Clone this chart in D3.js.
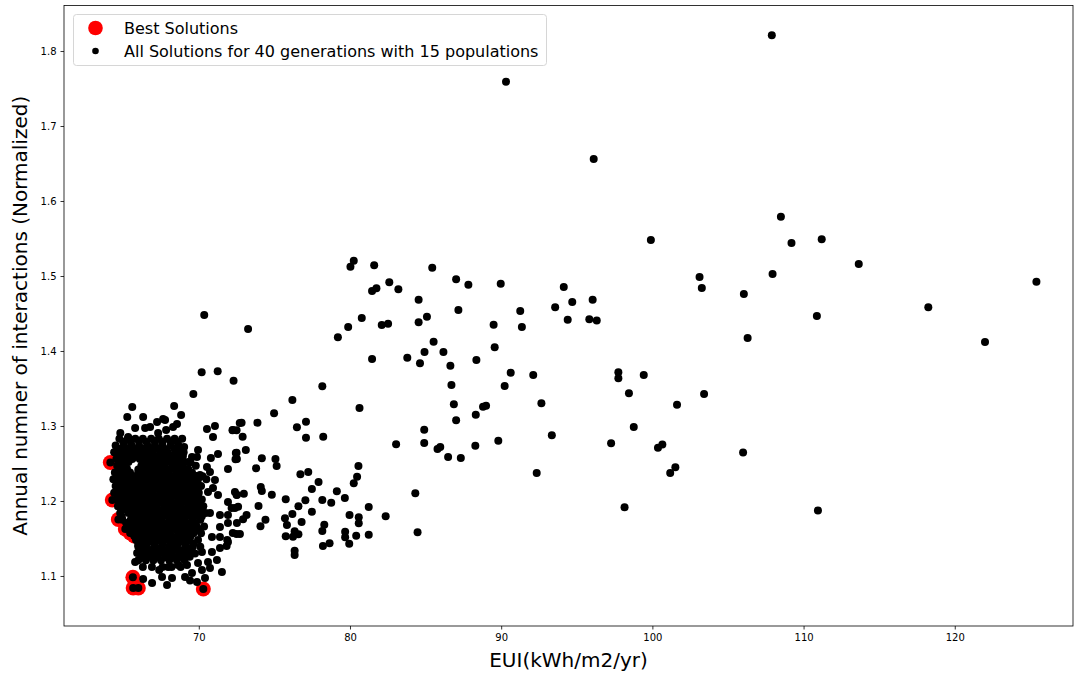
<!DOCTYPE html>
<html>
<head>
<meta charset="utf-8">
<script src="https://cdn.jsdelivr.net/npm/d3@7"></script>
<style>
  body { margin: 0; background: #fff; }
  svg { display: block; }
  text { font-family: "DejaVu Sans", sans-serif; }
</style>
</head>
<body>
<div id="chart"></div>
<script>
// chart size
let width = 1075, height = 677;
let plot = {left: 64, top: 5.5, right: 1073, bottom: 626};

let xTicks = [70, 80, 90, 100, 110, 120];
let yTicks = [1.1, 1.2, 1.3, 1.4, 1.5, 1.6, 1.7, 1.8];

let legendLabels = ["Best Solutions", "All Solutions for 40 generations with 15 populations"];

// [EUI, interactions] of the best solutions (red)
let bestSolutions = [[64.15,1.2513],[64.28,1.2013],[64.68,1.1753],[65.14,1.1627],[65.46,1.1573],[65.73,1.1533],
  [65.64,1.0983],[65.66,1.084],[66.0,1.084],[70.3,1.0827]];

// dense cluster of solutions, read row by row
let clusterSolutions = [
  [64.75,1.283],[65.3,1.283],[65.8,1.283],[66.3,1.283],[66.85,1.283],[67.35,1.283],[67.9,1.283],[68.4,1.283],[68.9,1.283],
  [64.5,1.274],[65.05,1.274],[65.55,1.274],[66.05,1.274],[66.6,1.274],[67.1,1.274],[67.6,1.274],[68.15,1.274],[68.65,1.274],
  [64.4,1.265],[64.9,1.265],[65.4,1.265],[65.9,1.265],[66.45,1.265],[66.95,1.265],[67.45,1.265],[67.95,1.265],[68.5,1.265],[69.0,1.265],
  [64.55,1.256],[65.1,1.256],[65.6,1.256],[66.1,1.256],[66.6,1.256],[67.15,1.256],[67.65,1.256],[68.2,1.256],[68.7,1.256],
  [64.6,1.247],[65.15,1.247],[66.2,1.247],[66.7,1.247],[67.2,1.247],[67.7,1.247],[68.25,1.247],[68.75,1.247],[69.8,1.247],
  [64.45,1.238],[64.95,1.238],[65.45,1.238],[66.0,1.238],[66.5,1.238],[67.0,1.238],[67.5,1.238],[68.0,1.238],[68.55,1.238],[69.05,1.238],[69.55,1.238],
  [64.35,1.229],[64.85,1.229],[65.35,1.229],[65.85,1.229],[66.35,1.229],[66.9,1.229],[67.4,1.229],[67.9,1.229],[68.4,1.229],[68.9,1.229],[69.45,1.229],[69.95,1.229],[70.5,1.229],
  [64.5,1.22],[65.0,1.22],[65.5,1.22],[66.05,1.22],[66.55,1.22],[67.05,1.22],[67.6,1.22],[68.1,1.22],[68.6,1.22],[69.1,1.22],[69.65,1.22],[70.15,1.22],
  [64.4,1.211],[64.9,1.211],[65.4,1.211],[65.95,1.211],[66.45,1.211],[66.95,1.211],[67.45,1.211],[68.0,1.211],[68.5,1.211],[69.0,1.211],[69.5,1.211],[70.0,1.211],
  [64.55,1.202],[65.05,1.202],[65.6,1.202],[66.1,1.202],[66.6,1.202],[67.1,1.202],[67.65,1.202],[68.15,1.202],[68.65,1.202],[69.15,1.202],[69.7,1.202],[70.2,1.202],
  [64.65,1.193],[65.15,1.193],[65.7,1.193],[66.2,1.193],[66.7,1.193],[67.2,1.193],[67.75,1.193],[68.25,1.193],[68.75,1.193],[69.3,1.193],[69.8,1.193],[70.3,1.193],
  [64.8,1.184],[65.35,1.184],[65.85,1.184],[66.35,1.184],[66.9,1.184],[67.4,1.184],[67.9,1.184],[68.4,1.184],[68.95,1.184],[69.45,1.184],[69.95,1.184],[70.45,1.184],
  [64.95,1.175],[65.5,1.175],[66.0,1.175],[66.5,1.175],[67.0,1.175],[67.55,1.175],[68.05,1.175],[68.55,1.175],[69.05,1.175],[69.6,1.175],[70.1,1.175],
  [65.3,1.166],[65.8,1.166],[66.3,1.166],[66.8,1.166],[67.3,1.166],[67.8,1.166],[68.3,1.166],[68.85,1.166],[69.35,1.166],[69.85,1.166],[70.35,1.166],
  [65.6,1.157],[66.1,1.157],[66.6,1.157],[67.1,1.157],[67.6,1.157],[68.1,1.157],[68.65,1.157],[69.15,1.157],[69.65,1.157],[70.15,1.157],
  [65.85,1.148],[66.35,1.148],[66.85,1.148],[67.35,1.148],[67.9,1.148],[68.4,1.148],[68.9,1.148],[69.4,1.148],[69.95,1.148],
  [66.0,1.139],[66.5,1.139],[67.05,1.139],[67.55,1.139],[68.05,1.139],[68.55,1.139],[69.1,1.139],[69.6,1.139],[70.1,1.139],
  [66.15,1.13],[66.7,1.13],[67.2,1.13],[67.7,1.13],[68.2,1.13],[68.75,1.13],[69.25,1.13],[69.75,1.13],
  [66.0,1.121],[66.5,1.121],[67.0,1.121],[67.5,1.121],[68.05,1.121],[68.55,1.121],[69.05,1.121],
  [66.3,1.112],[66.9,1.112],[67.6,1.112],[68.2,1.112],[68.8,1.112]
];

// points sitting between the rows above, where the cluster is solid
let clusterFill = [
  [65.0,1.279],[66.05,1.2795],[67.1,1.2785],[68.15,1.279],[65.5,1.279],[66.55,1.2785],[67.6,1.279],[68.6,1.2785],
  [64.7,1.2695],[65.25,1.2695],[65.75,1.269],[66.3,1.2695],[66.8,1.27],[67.35,1.2695],[67.85,1.269],[68.4,1.2695],[68.85,1.27],
  [64.7,1.2605],[65.3,1.261],[65.85,1.2600],[66.4,1.2605],[66.85,1.261],[67.4,1.2600],[67.9,1.2605],[68.45,1.261],[68.95,1.2600],
  [64.95,1.2605],[65.55,1.2605],[66.1,1.261],[66.6,1.2605],[67.1,1.26],[67.65,1.2605],[68.2,1.261],[68.7,1.2605],
  [64.8,1.2515],[65.35,1.252],[66.4,1.2515],[66.9,1.251],[67.4,1.2515],[67.95,1.252],[68.45,1.2515],[68.95,1.251],[69.45,1.2515],
  [64.75,1.2425],[65.25,1.243],[66.3,1.2425],[66.75,1.243],[67.3,1.2420],[67.8,1.2425],[68.35,1.243],[68.85,1.2420],[69.3,1.2425],
  [65.0,1.2425],[66.0,1.242],[66.5,1.2425],[67.05,1.243],[67.55,1.2425],[68.1,1.242],[68.6,1.2425],[69.05,1.243],
  [64.6,1.2335],[65.1,1.234],[65.6,1.2335],[66.15,1.233],[66.7,1.2335],[67.2,1.234],[67.7,1.2335],[68.2,1.233],[68.75,1.2335],[69.25,1.234],[69.75,1.2335],[70.25,1.233],
  [64.65,1.2245],[65.2,1.225],[65.7,1.2240],[66.25,1.2245],[66.8,1.225],[67.3,1.2240],[67.85,1.2245],[68.35,1.225],[68.85,1.2240],[69.35,1.2245],[69.9,1.225],
  [64.9,1.2245],[65.45,1.224],[65.95,1.2245],[66.5,1.225],[67.05,1.2245],[67.55,1.224],[68.1,1.2245],[68.6,1.225],[69.1,1.2245],[69.6,1.224],
  [64.65,1.2155],[65.15,1.216],[65.7,1.2155],[66.25,1.215],[66.75,1.2155],[67.3,1.216],[67.8,1.2155],[68.3,1.215],[68.8,1.2155],[69.3,1.216],[69.85,1.2155],
  [64.7,1.2065],[65.25,1.207],[65.8,1.2060],[66.3,1.2065],[66.85,1.207],[67.35,1.2060],[67.9,1.2065],[68.4,1.207],[68.9,1.2060],[69.4,1.2065],[69.95,1.207],
  [64.95,1.2065],[65.5,1.206],[66.05,1.2065],[66.55,1.207],[67.1,1.2065],[67.6,1.206],[68.15,1.2065],[68.65,1.207],[69.15,1.2065],[69.65,1.206],
  [64.8,1.1975],[65.3,1.198],[65.85,1.1975],[66.35,1.197],[66.9,1.1975],[67.4,1.198],[67.9,1.1975],[68.4,1.197],[68.9,1.1975],[69.45,1.198],[69.95,1.1975],
  [64.95,1.1885],[65.45,1.189],[65.95,1.1880],[66.5,1.1885],[67.0,1.189],[67.5,1.1880],[68.0,1.1885],[68.55,1.189],[69.05,1.1880],[69.55,1.1885],[70.05,1.189],
  [65.2,1.1885],[65.7,1.188],[66.2,1.1885],[66.75,1.189],[67.25,1.1885],[67.75,1.188],[68.3,1.1885],[68.8,1.189],[69.3,1.1885],[69.8,1.188],
  [64.9,1.1795],[65.6,1.18],[66.1,1.1795],[66.6,1.179],[67.15,1.1795],[67.65,1.18],[68.15,1.1795],[68.7,1.179],[69.2,1.1795],[69.7,1.18],[70.2,1.1795],
  [65.2,1.1705],[65.7,1.171],[66.2,1.1700],[66.75,1.1705],[67.25,1.171],[67.75,1.1700],[68.25,1.1705],[68.8,1.171],[69.3,1.1700],[69.8,1.1705],
  [65.45,1.1705],[65.95,1.17],[66.5,1.1705],[67.0,1.171],[67.5,1.1705],[68.0,1.17],[68.5,1.1705],[69.05,1.171],[69.55,1.1705],
  [65.45,1.1615],[65.95,1.162],[66.45,1.1615],[67.0,1.161],[67.5,1.1615],[68.0,1.162],[68.5,1.1615],[69.05,1.161],[69.55,1.1615],[70.05,1.162],
  [65.85,1.1525],[66.35,1.153],[66.85,1.1520],[67.35,1.1525],[67.85,1.153],[68.35,1.1520],[68.9,1.1525],[69.45,1.153],
  [66.1,1.1525],[66.6,1.152],[67.1,1.1525],[67.6,1.153],[68.1,1.1525],[68.6,1.152],[69.15,1.1525],
  [66.1,1.1435],[66.6,1.144],[67.1,1.1435],[67.6,1.143],[68.15,1.1435],[68.65,1.144],[69.15,1.1435],[69.65,1.143],
  [66.4,1.1345],[66.95,1.135],[67.45,1.1340],[67.95,1.1345],[68.45,1.135],[69.0,1.1340],[69.5,1.1345],
  [66.7,1.1345],[67.2,1.134],[67.7,1.1345],[68.2,1.135],[68.7,1.1345],[69.25,1.134],
  [66.3,1.1255],[66.8,1.126],[67.3,1.1255],[67.85,1.125],[68.35,1.1255],[68.85,1.126],[69.4,1.1255]
];

// loose points around the edge of the cluster
let clusterEdge = [
  [65.6,1.3253],[65.27,1.312],[66.32,1.312],[68.37,1.3267],[69.64,1.3427],[68.83,1.3147],[67.64,1.3093],[67.24,1.3053],
  [66.78,1.2987],[65.79,1.2973],[66.45,1.2973],[64.81,1.2907],[65.33,1.2853],[67.31,1.2907],[67.84,1.2947],[68.3,1.2987],
  [68.56,1.3027],[67.77,1.308],[70.54,1.296],[71.07,1.3],[70.94,1.2853],[72.25,1.2947],[72.71,1.304],[69.03,1.272],
  [69.95,1.268],[69.88,1.2587],[69.55,1.2587],[69.29,1.252],[70.8,1.2573],[71.27,1.2627],[72.45,1.264],[70.54,1.2453],
  [71.93,1.2427],[72.52,1.256],[70.74,1.2387],[71.07,1.228],[70.08,1.2347],[70.61,1.212],[70.94,1.2173],[72.39,1.212],
  [71.27,1.208],[71.93,1.1987],[72.52,1.208],[70.74,1.184],[71.4,1.1813],[71.93,1.1813],[72.39,1.1907],[72.52,1.1707],
  [71.4,1.1653],[71.93,1.1707],[70.87,1.152],[71.4,1.152],[71.93,1.1453],[72.25,1.1573],[71.4,1.1373],[70.87,1.132],
  [70.21,1.132],[71.2,1.1213],[70.61,1.1187],[69.95,1.1173],[69.22,1.1147],[68.63,1.1147],[67.97,1.112],[70.21,1.108],
  [70.74,1.1107],[71.53,1.1053],[69.55,1.104],[69.09,1.0987],[68.23,1.0973],[70.41,1.0973],[69.88,1.092],[69.42,1.094],
  [66.32,1.096],[66.91,1.0907],[67.57,1.0987],[67.9,1.088],[67.38,1.108],[65.79,1.1187],[65.92,1.1307],[65.99,1.1413],
  [71.88,1.148],[71.84,1.14],[70.36,1.448],[70.19,1.3716],[71.25,1.373]
];

// the points spread to the right
let spreadSolutions = [
  [80.25,1.5204],[80.03,1.5124],[81.6,1.5143],[85.44,1.5111],[87.02,1.4956],[87.83,1.4884],[82.6,1.4916],[83.2,1.4823],
  [81.46,1.48],[81.75,1.4836],[84.54,1.4684],[87.17,1.4547],[80.78,1.444],[79.88,1.432],[79.2,1.4183],[82.1,1.4347],
  [82.52,1.4364],[84.54,1.4383],[85.09,1.4457],[73.26,1.4293],[85.53,1.4124],[84.93,1.3987],[86.18,1.3987],[83.79,1.391],
  [84.63,1.3836],[81.46,1.3893],[86.64,1.3804],[86.71,1.3547],[86.87,1.3289],[88.8,1.3258],[89.0,1.3271],[88.32,1.3151],
  [87.02,1.3076],[84.91,1.2951],[84.91,1.2773],[83.05,1.2756],[85.79,1.2693],[85.97,1.272],[86.49,1.2587],[87.33,1.2573],
  [88.29,1.2737],[80.63,1.324],[78.17,1.3529],[76.19,1.3347],[72.3,1.3604],[74.98,1.3169],[77.09,1.3057],[76.49,1.2983],
  [77.09,1.2844],[78.23,1.2857],[73.88,1.3044],[72.83,1.3044],[72.23,1.2943],[72.5,1.2943],[72.9,1.2857],[73.11,1.268],
  [72.5,1.2644],[72.43,1.2556],[74.17,1.2569],[73.79,1.2436],[75.07,1.256],[75.15,1.2467],[80.56,1.2467],[80.47,1.2324],
  [80.25,1.2236],[77.92,1.2253],[77.24,1.2387],[76.72,1.2356],[77.48,1.216],[79.13,1.2129],[79.66,1.204],[84.32,1.2103],
  [84.47,1.1583],[81.24,1.192],[82.36,1.1796],[80.58,1.1783],[80.58,1.1703],[79.97,1.1813],[81.24,1.1551],[80.41,1.1537],
  [79.68,1.1591],[79.68,1.1516],[79.95,1.1431],[78.65,1.1436],[78.21,1.14],[78.3,1.1684],[78.17,1.16],[78.76,1.1977],
  [78.17,1.2013],[77.48,1.1857],[77.05,1.2009],[76.59,1.1929],[75.75,1.2023],[76.19,1.1827],[75.7,1.1769],[75.83,1.168],
  [76.8,1.172],[76.59,1.1556],[76.34,1.1596],[76.23,1.1524],[75.75,1.1529],[76.34,1.1337],[76.34,1.128],[74.83,1.2084],
  [73.95,1.1933],[74.41,1.1751],[74.08,1.1663],[72.98,1.2097],[72.5,1.2084],[72.6,1.1924],[72.17,1.1907],[73.16,1.1813],
  [72.93,1.1756],[72.5,1.156],[72.72,1.156],[74.1,1.2187],[74.17,1.2133],
  [107.9,1.821],[90.32,1.759],[96.12,1.656],[108.5,1.579],[99.9,1.548],[109.2,1.544],[111.2,1.549],[113.65,1.516],
  [107.95,1.5027],[103.12,1.4987],[103.27,1.484],[125.4,1.4925],[106.05,1.476],[118.25,1.4583],[122.0,1.412],[106.3,1.4173],
  [110.88,1.4465],[103.42,1.3425],[101.63,1.3284],[97.75,1.3715],[97.75,1.3636],[99.43,1.368],[98.45,1.3436],[97.27,1.277],
  [98.77,1.2985],[100.37,1.2711],[100.66,1.2752],[101.18,1.2372],[101.52,1.2449],[106.0,1.2645],[98.16,1.1917],[110.95,1.1872],
  [92.66,1.3303],[93.35,1.2876],[92.35,1.2373],[94.4,1.4415],[95.83,1.4424],[96.32,1.4408],[93.57,1.4583],[94.7,1.4653],
  [96.05,1.4684],[94.14,1.4853],[91.26,1.4533],[89.97,1.4897],[91.37,1.432],[89.5,1.4351],[92.12,1.368],[90.63,1.3711],
  [90.23,1.3533],[89.57,1.4049],[88.36,1.388],[89.81,1.2804]
];

let allSolutions = bestSolutions.concat(clusterSolutions, clusterFill, clusterEdge, spreadSolutions);

let svg = d3.select("#chart")
    .append("svg")
    .attr("width", width)
    .attr("height", height)
    .style("background", "#fff");

let x = d3.scaleLinear()
    .domain([61.085, 127.82])
    .range([plot.left, plot.right]);

let y = d3.scaleLinear()
    .domain([1.0333, 1.8607])
    .range([plot.bottom, plot.top]);

// axes
let xAxis = svg.append("g")
    .attr("transform", `translate(0,${plot.bottom})`)
    .call(d3.axisBottom(x).tickValues(xTicks).tickSize(3.5).tickPadding(4).tickFormat(d3.format("d")));

let yAxis = svg.append("g")
    .attr("transform", `translate(${plot.left},0)`)
    .call(d3.axisLeft(y).tickValues(yTicks).tickSize(3.5).tickPadding(4).tickFormat(d3.format(".1f")));

[xAxis, yAxis].forEach(function(g) {
    g.select(".domain").remove();
    g.selectAll(".tick line").attr("stroke", "#000").attr("stroke-width", 0.8);
    g.selectAll(".tick text").attr("fill", "#000").style("font-size", "10px")
        .style("font-family", "'DejaVu Sans', sans-serif");
});

// points: red best solutions underneath, black on top
svg.append("g").selectAll("circle")
    .data(bestSolutions)
    .join("circle")
    .attr("cx", d => x(d[0]))
    .attr("cy", d => y(d[1]))
    .attr("r", 7.5)
    .attr("fill", "#ff0000");

svg.append("g").selectAll("circle")
    .data(allSolutions)
    .join("circle")
    .attr("cx", d => x(d[0]))
    .attr("cy", d => y(d[1]))
    .attr("r", 4)
    .attr("fill", "#000");

// frame
svg.append("rect")
    .attr("x", plot.left)
    .attr("y", plot.top)
    .attr("width", plot.right - plot.left)
    .attr("height", plot.bottom - plot.top)
    .attr("fill", "none")
    .attr("stroke", "#000")
    .attr("stroke-width", 0.8);

// axis labels
svg.append("text")
    .attr("x", (plot.left + plot.right) / 2)
    .attr("y", 667)
    .attr("text-anchor", "middle")
    .style("font-size", "20px")
    .text("EUI(kWh/m2/yr)");

svg.append("text")
    .attr("transform", `translate(27,${(plot.top + plot.bottom) / 2}) rotate(-90)`)
    .attr("text-anchor", "middle")
    .style("font-size", "20px")
    .text("Annual numner of interactions (Normalized)");

// legend
let legend = svg.append("g");
legend.append("rect")
    .attr("x", 73.5).attr("y", 14.5)
    .attr("width", 473).attr("height", 51)
    .attr("rx", 3)
    .attr("fill", "#fff").attr("fill-opacity", 0.8)
    .attr("stroke", "#d6d6d6");

legend.append("circle").attr("cx", 95.5).attr("cy", 28).attr("r", 7.3).attr("fill", "#ff0000");
legend.append("circle").attr("cx", 95.5).attr("cy", 51).attr("r", 3.3).attr("fill", "#000");

legend.selectAll("text.lbl")
    .data(legendLabels)
    .join("text")
    .attr("class", "lbl")
    .attr("x", 124)
    .attr("y", (d, i) => 33.5 + i * 23)
    .style("font-size", "16px")
    .attr("fill", "#000")
    .text(d => d);
</script>
</body>
</html>
